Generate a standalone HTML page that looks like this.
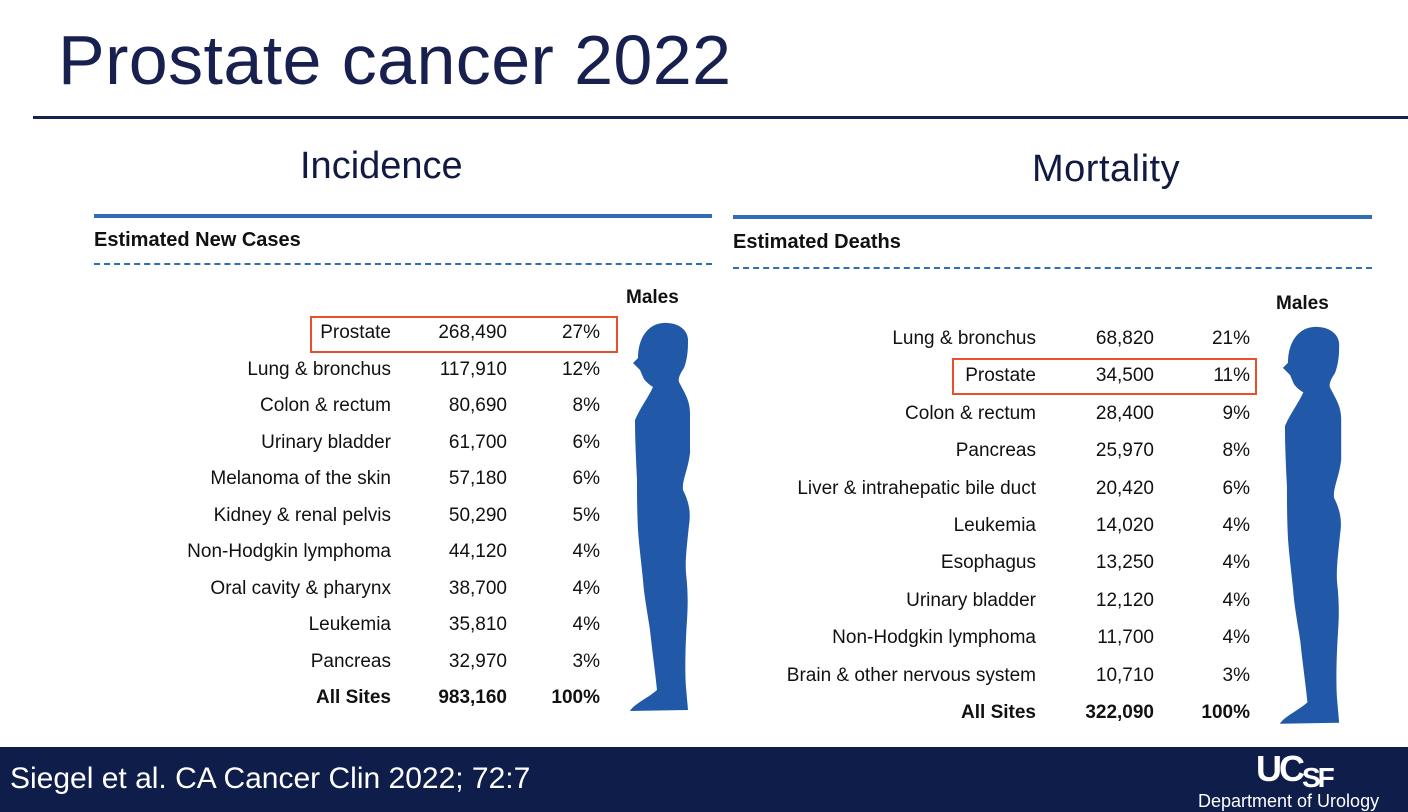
<!DOCTYPE html>
<html><head><meta charset="utf-8">
<style>
body{margin:0;width:1408px;height:812px;position:relative;background:#fff;overflow:hidden;font-family:"Liberation Sans",sans-serif;}
.a{position:absolute;white-space:nowrap;}
.cell{position:absolute;font-size:19px;color:#111;line-height:20px;transform:translateY(-10px);}
</style></head><body>
<div class="a" style="left:58px;top:20px;font-size:70px;color:#17204f;letter-spacing:0.4px;">Prostate cancer 2022</div>
<div class="a" style="left:33px;top:116px;width:1375px;height:3px;background:#17204f"></div>

<div class="a" style="left:300px;top:145px;font-size:38px;color:#111a40;">Incidence</div>
<div class="a" style="left:1032px;top:148px;font-size:38px;color:#111a40;letter-spacing:0.5px;">Mortality</div>

<div class="a" style="left:94px;top:214px;width:618px;height:4px;background:#2f6db5"></div>
<div class="a" style="left:733px;top:215px;width:639px;height:4px;background:#2f6db5"></div>

<div class="a" style="left:94px;top:229px;font-size:20px;font-weight:bold;color:#111;">Estimated New Cases</div>
<div class="a" style="left:733px;top:231px;font-size:20px;font-weight:bold;color:#111;">Estimated Deaths</div>

<div class="a" style="left:94px;top:263px;width:618px;border-top:2px dashed #2f6db5"></div>
<div class="a" style="left:733px;top:267px;width:639px;border-top:2px dashed #2f6db5"></div>

<div class="a" style="left:626px;top:287px;font-size:19px;font-weight:bold;color:#111;">Males</div>
<div class="a" style="left:1276px;top:293px;font-size:19px;font-weight:bold;color:#111;">Males</div>

<svg class="a" style="left:600px;top:280px" width="120" height="440" viewBox="0 0 120 440">
<path id="fig" fill="#2159a8" d="M63,43 C78,42 89,50 88,62 C88,72 87,80 84,88 C80,94 78,98 79,102 C84,112 90,120 90,133 L90,173 C88,190 82,200 83,210 C89,222 91,232 89,245 C87,265 85,280 86,293 C88,310 88,325 87,340 C85,370 85,395 86,407 L88,430 L30,431 C34,424 48,418 57,410 C55,390 52,370 50,350 C47,330 44,315 43,300 C41,280 39,265 38,250 C37,230 37,215 37,200 C36,180 35,160 35,140 C40,128 48,118 53,107 C48,104 44,100 43,97 L40,90 L33,83 L38,78 C38,58 48,44 63,43 Z"/>
</svg>
<svg class="a" style="left:1248px;top:283px" width="125" height="450" viewBox="0 0 120 440">
<use href="#fig"/>
</svg>

<div class="a" style="left:310px;top:316px;width:304px;height:33px;border:2px solid #e8502a"></div>
<div class="a" style="left:952px;top:358px;width:301px;height:33px;border:2px solid #e8502a"></div>

<div id="tables"></div>

<div class="a" style="left:0;top:747px;width:1408px;height:65px;background:#0f1d4b"></div>
<div class="a" style="left:10px;top:762px;font-size:30px;color:#fff;">Siegel et al. CA Cancer Clin 2022; 72:7</div>
<div class="a" style="left:1256px;top:748px;font-size:36px;font-weight:bold;color:#fff;letter-spacing:-3px;">UC<span style="font-size:28px;position:relative;top:6px">SF</span></div>
<div class="a" style="left:1198px;top:791px;font-size:18px;color:#fff;">Department of Urology</div>

<script>
const incSites=["Prostate","Lung & bronchus","Colon & rectum","Urinary bladder","Melanoma of the skin","Kidney & renal pelvis","Non-Hodgkin lymphoma","Oral cavity & pharynx","Leukemia","Pancreas","All Sites"];
const incCases=["268,490","117,910","80,690","61,700","57,180","50,290","44,120","38,700","35,810","32,970","983,160"];
const incPct=["27%","12%","8%","6%","6%","5%","4%","4%","4%","3%","100%"];
const morSites=["Lung & bronchus","Prostate","Colon & rectum","Pancreas","Liver & intrahepatic bile duct","Leukemia","Esophagus","Urinary bladder","Non-Hodgkin lymphoma","Brain & other nervous system","All Sites"];
const morDeaths=["68,820","34,500","28,400","25,970","20,420","14,020","13,250","12,120","11,700","10,710","322,090"];
const morPct=["21%","11%","9%","8%","6%","4%","4%","4%","4%","3%","100%"];

const host=document.getElementById('tables');
function cell(text,right,y,bold,name){
  const d=document.createElement('div');
  d.className='cell';
  d.textContent=text;
  d.style.right=(1408-right)+'px';
  d.style.top=y+'px';
  if(bold)d.style.fontWeight='bold';
  
  
  host.appendChild(d);
}
function table(sites,vals,pcts,cols,y0,step,prefix){
  sites.forEach((s,i)=>{
    const y=y0+i*step, b=(i===sites.length-1);
    cell(s,cols[0],y,b,prefix+'-site');
    cell(vals[i],cols[1],y,b,prefix+'-count');
    cell(pcts[i],cols[2],y,b,prefix+'-percent');
  });
}
table(incSites,incCases,incPct,[391,507,600],333,36.5,'incidence');
table(morSites,morDeaths,morPct,[1036,1154,1250],339,37.4,'mortality');
</script>
</body></html>
